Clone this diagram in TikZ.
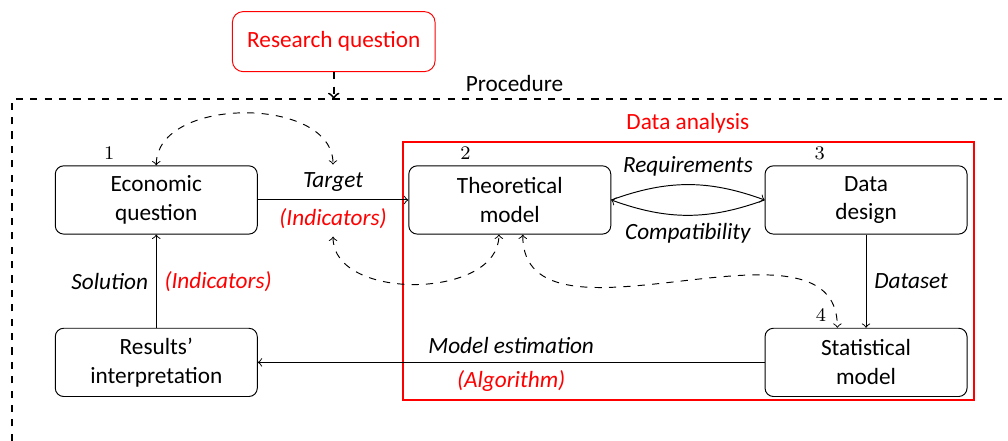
\documentclass[tikz,border=0pt]{standalone}
\usepackage{fontspec}
\setmainfont{Carlito}[Scale=0.97]
\usepackage{tikz}
\usetikzlibrary{positioning}
\tikzset{
    box/.style={draw, rounded corners=3.5pt, minimum width=2.96cm, minimum height=1cm, align=center},
    frage/.style={draw=red, text=red, rounded corners=4.5pt, minimum width=2.97cm, minimum height=0.88cm},
    num/.style={font=\footnotesize, inner sep=1pt},
    lbl/.style={font=\itshape},
    hint/.style={font=\itshape, text=red},
    link/.style={dashed, <->},
}

\begin{document}
\begin{tikzpicture}
    \useasboundingbox (0,0) rectangle (14.77,6.46);

    % 研究问题与流程边框
    \node[frage] (rq) at (4.89,5.85) {Research question};
    \coordinate (proc) at (4.89,5.01);
    \draw[thick, dashed] (0.18,0) -- (0.18,5.01) -- (14.77,5.01);
    \node (proclbl) at (7.54,5.24) {Procedure};
    \draw[thick, dashed, ->] (rq) -- (proc);

    % 数据分析框
    \draw[thick, red] (5.90,4.38) rectangle (14.27,0.60);
    \node[red, above] (dalbl) at (10.08,4.38) {Data analysis};

    % 绘制各步骤
    \node[box] (econ) at (2.29,3.53) {Economic\\question};
    \node[box] (theo) at (7.47,3.53) {Theoretical\\model};
    \node[box] (dd) at (12.69,3.53) {Data\\design};
    \node[box] (stat) at (12.69,1.15) {Statistical\\model};
    \node[box] (res) at (2.29,1.15) {Results'\\interpretation};

    % 编号
    \node[num, above right=0.05cm and 0.68cm of econ.north west] (n1) {$1$};
    \node[num, above right=0.05cm and 0.72cm of theo.north west] (n2) {$2$};
    \node[num, above right=0.05cm and 0.69cm of dd.north west] (n3) {$3$};
    \node[num, above right=0.05cm and 0.71cm of stat.north west] (n4) {$4$};

    % 实线箭头
    \draw[->] (econ) -- node[lbl, above] (target) {Target}
        node[hint, below] (ind) {(Indicators)} (theo);
    \draw[->] (theo.east) to[bend left=20] node[lbl, above] (req) {Requirements} (dd.west);
    \draw[->] (dd.west) to[bend left=20] node[lbl, below] (comp) {Compatibility} (theo.east);
    \draw[->] (dd) -- node[lbl, right] (dset) {Dataset} (stat);
    \draw[->] (stat) -- node[lbl, above] (est) {Model estimation}
        node[hint, below] (algo) {(Algorithm)} (res);
    \draw[->] (res) -- node[lbl, left] (sol) {Solution}
        node[hint, right] (ind2) {(Indicators)} (econ);

    % 虚线反馈
    \draw[link] (econ.north) to[out=90, in=90] (target.north);
    \draw[link] (ind.south) to[out=-90, in=-90] ([xshift=-0.16cm]theo.south);
    \draw[link] ([xshift=0.19cm]theo.south) to[out=-90, in=90] ([xshift=-0.42cm]stat.north);
\end{tikzpicture}
\end{document}
